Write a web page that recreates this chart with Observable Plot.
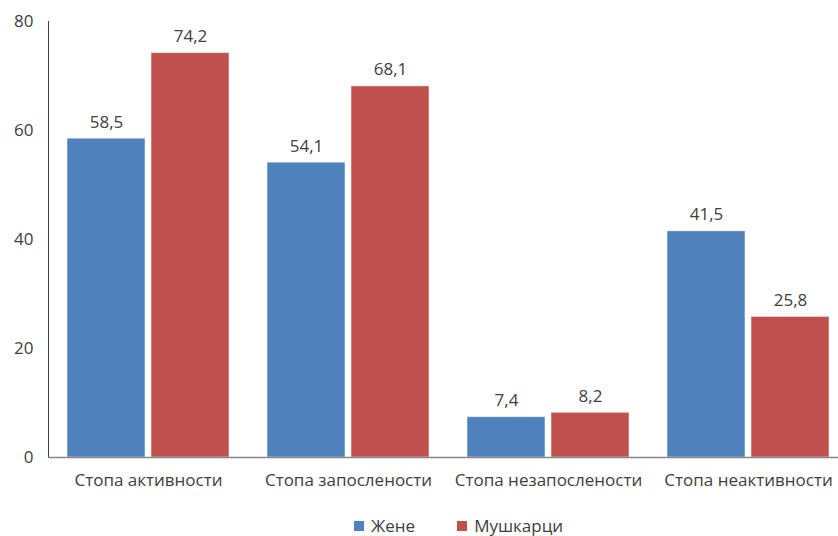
<!DOCTYPE html>
<html>
<head>
<meta charset="utf-8">
<script src="https://cdn.jsdelivr.net/npm/d3@7"></script>
<script src="https://cdn.jsdelivr.net/npm/@observablehq/plot@0.6"></script>
<style>
  html, body { margin: 0; padding: 0; background: #fff; overflow: hidden; }
  body { width: 838px; height: 536px; font-family: "Open Sans", sans-serif; }
  #chart svg { display: block; }
  #legend { position: absolute; left: 354px; top: 516px; display: flex; gap: 42px; font-size: 17px; line-height: 20px; color: #404040; height: 20px; align-items: center; }
  #legend span.sw { display: inline-block; width: 10px; height: 10px; margin-right: 7px; }
  #legend div { display: flex; align-items: center; }
</style>
</head>
<body>
<div id="chart"></div>
<div id="legend"></div>
<script>
const categories = ["Стопа активности", "Стопа запослености", "Стопа незапослености", "Стопа неактивности"];
const seriesNames = ["Жене", "Мушкарци"];
const zene = [58.5, 54.1, 7.4, 41.5];
const muskarci = [74.2, 68.1, 8.2, 25.8];
const yTicks = [0, 20, 40, 60, 80];
const colors = ["#4f81bd", "#c0504d"];

const data = [];
categories.forEach((c, i) => {
  data.push({category: c, series: seriesNames[0], value: zene[i]});
  data.push({category: c, series: seriesNames[1], value: muskarci[i]});
});
const fmt = v => v.toFixed(1).replace(".", ",");

const chart = Plot.plot({
  width: 838,
  height: 505,
  marginLeft: 47,
  marginRight: -10,
  marginTop: 21,
  marginBottom: 48,
  style: {fontFamily: "'Open Sans', sans-serif", fontSize: "17px", color: "#404040", overflow: "visible"},
  fx: {domain: categories, paddingInner: 0, paddingOuter: 0, label: null, axis: "bottom", tickSize: 0, tickPadding: 16},
  x: {domain: seriesNames, paddingInner: 0.0706, paddingOuter: 0.2118, axis: null},
  y: {domain: [0, 80], ticks: yTicks, label: null, line: true, tickSize: 0, tickPadding: 15},
  color: {domain: seriesNames, range: colors},
  marks: [
    Plot.barY(data, {fx: "category", x: "series", y: "value", fill: "series", stroke: "#ffffff", strokeOpacity: 0.5, strokeWidth: 1}),
    Plot.text(data, {fx: "category", x: "series", y: "value", text: d => fmt(d.value), lineAnchor: "bottom", dy: -11, fontSize: 17, fill: "#404040"}),
    Plot.ruleY([0], {stroke: "#868686", strokeWidth: 1.3})
  ]
});
document.getElementById("chart").appendChild(chart);

const leg = document.getElementById("legend");
seriesNames.forEach((s, i) => {
  const d = document.createElement("div");
  d.innerHTML = `<span class="sw" style="background:${colors[i]}"></span>${s}`;
  leg.appendChild(d);
});
</script>
</body>
</html>
